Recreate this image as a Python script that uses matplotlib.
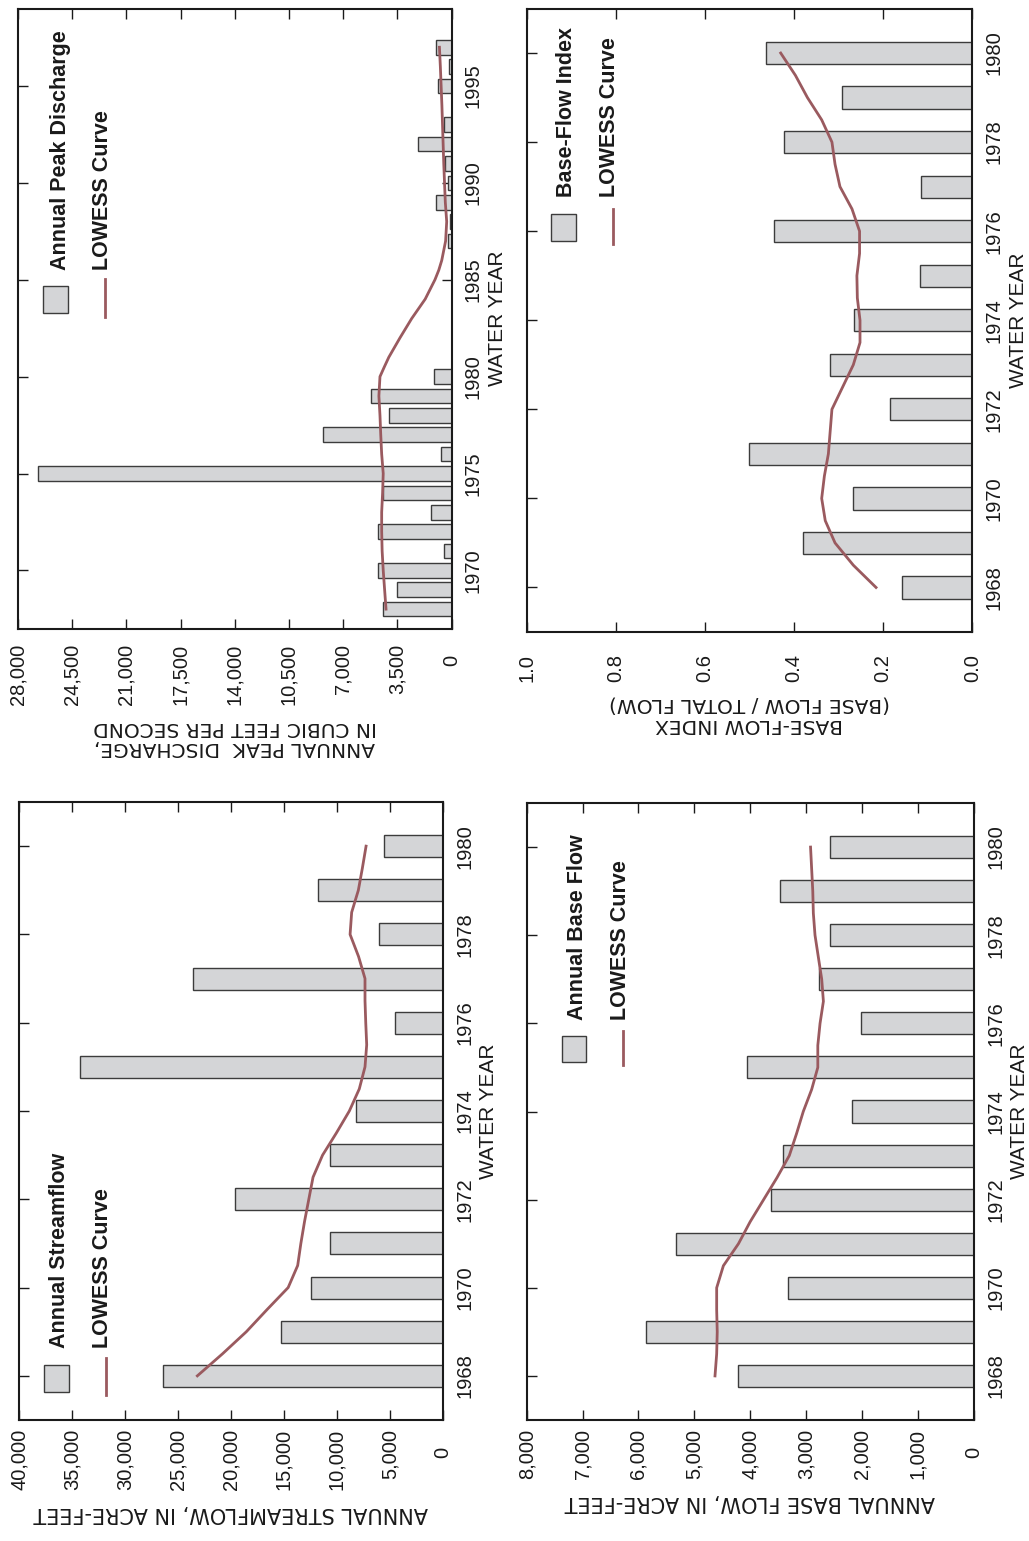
import numpy as np
import matplotlib
matplotlib.use("Agg")
import matplotlib.pyplot as plt
import matplotlib.transforms as mtransforms
from matplotlib.patches import Rectangle
from matplotlib.lines import Line2D

# ============================================================================
# DATA
# ============================================================================

years = list(range(1968, 1981))

# Annual streamflow, acre-feet
streamflow = [26450, 15300, 12450, 10600, 19600, 10650, 8150,
              34250, 4500, 23550, 6050, 11800, 5550]

# Annual base flow, acre-feet
base_flow = [4210, 5870, 3330, 5320, 3630, 3410, 2170,
             4050, 2015, 2760, 2570, 3460, 2570]

# Base-flow index (base flow / total flow)
bfi = [0.158, 0.381, 0.267, 0.502, 0.185, 0.319, 0.266,
       0.117, 0.445, 0.116, 0.423, 0.293, 0.462]

# Annual peak discharge, cubic feet per second (no record 1981-86, 1994)
peak_years = [1968, 1969, 1970, 1971, 1972, 1973, 1974, 1975, 1976, 1977,
              1978, 1979, 1980, 1987, 1988, 1989, 1990, 1991, 1992, 1993,
              1995, 1996, 1997]
peak = [4450, 3520, 4770, 500, 4770, 1300, 4420, 26700, 690, 8300,
        4020, 5170, 1150, 200, 70, 990, 220, 400, 2160, 460,
        860, 170, 990]

# LOWESS curves
lowess_years = [1968.0, 1968.5, 1969.0, 1969.5, 1970.0, 1970.5, 1971.0,
                1971.5, 1972.0, 1972.5, 1973.0, 1973.5, 1974.0, 1974.5,
                1975.0, 1975.5, 1976.0, 1976.5, 1977.0, 1977.5, 1978.0,
                1978.5, 1979.0, 1979.5, 1980.0]
streamflow_lowess = [23180, 20800, 18550, 16600, 14600, 13700, 13400,
                     13050, 12650, 12250, 11350, 10050, 8820, 7880,
                     7340, 7180, 7270, 7340, 7340, 7950, 8750,
                     8600, 7970, 7590, 7240]
base_flow_lowess = [4630, 4600, 4590, 4600, 4600, 4480, 4210,
                    4000, 3760, 3520, 3300, 3170, 3050, 2900,
                    2790, 2790, 2750, 2690, 2720, 2780, 2840,
                    2870, 2880, 2900, 2920]
bfi_lowess = [0.216, 0.267, 0.308, 0.330, 0.338, 0.332, 0.323,
              0.319, 0.315, 0.291, 0.267, 0.252, 0.252, 0.258,
              0.259, 0.253, 0.253, 0.270, 0.297, 0.308, 0.315,
              0.338, 0.370, 0.397, 0.430]

peak_lowess_years = [1968, 1969, 1970, 1971, 1972, 1973, 1974, 1975, 1976,
                     1977, 1978, 1979, 1980, 1980.5, 1981, 1982, 1983,
                     1984, 1985, 1985.5, 1986, 1987, 1988, 1989, 1990,
                     1991, 1992, 1993, 1994, 1995, 1996, 1997]
peak_lowess = [4230, 4320, 4410, 4480, 4510, 4510, 4450, 4410, 4510,
               4570, 4620, 4690, 4620, 4340, 4050, 3330, 2570,
               1700, 1070, 820, 630, 380, 310, 400, 450,
               500, 540, 580, 620, 670, 720, 780]

# ============================================================================
# STYLE
# ============================================================================

plt.rcParams['font.family'] = ['Liberation Sans', 'DejaVu Sans']
BAR_FC = '#d4d5d7'
BAR_EC = '#3c3c3c'
LINE_C = '#9a5a5f'
INK = '#1a1a1a'

W, H = 1029, 1541
fig = plt.figure(figsize=(W / 100, H / 100), dpi=100)


def make_axes(left, top, right, bottom):
    return fig.add_axes([left / W, 1 - bottom / H, (right - left) / W, (bottom - top) / H])


def panel(ax, box, yrs, vals, lw_yrs, lw_vals, xmax, xstep, ylim, ystep,
          bar_h, xlabel, legend_label, leg, fmt, zero_sep=True, xpad=6.5,
          xlab_size=15):
    w_px = box[2] - box[0]
    h_px = box[3] - box[1]
    ax.barh(yrs, vals, height=bar_h, color=BAR_FC, edgecolor=BAR_EC, linewidth=1, zorder=2)
    ax.plot(lw_vals, lw_yrs, color=LINE_C, linewidth=2, zorder=3,
            solid_joinstyle='round')
    ax.set_xlim(xmax, 0)
    ax.set_ylim(*ylim)

    xt = np.arange(0, xmax + xstep / 2, xstep)
    ax.set_xticks(xt)
    labels = [fmt(v) for v in xt]
    if zero_sep:
        labels[0] = ''
    ax.set_xticklabels(labels)
    ax.set_yticks(np.arange(ylim[0] + (ystep - (ylim[0] % ystep)) % ystep, ylim[1], ystep))

    for s in ax.spines.values():
        s.set_linewidth(1.5)
        s.set_color(INK)
    ax.tick_params(axis='x', direction='in', top=True, bottom=True, length=7,
                   width=1, color=INK, labelsize=14.5, labelrotation=90, pad=xpad,
                   labelcolor=INK)
    ax.yaxis.tick_right()
    ax.tick_params(axis='y', direction='in', left=True, right=True, length=7,
                   width=1, color=INK, labelsize=14.5, labelrotation=90, pad=9,
                   labelleft=False, labelright=True, labelcolor=INK)
    for t in ax.get_yticklabels():
        t.set_verticalalignment('center')

    if zero_sep:
        tr = mtransforms.blended_transform_factory(ax.transData, ax.transAxes)
        ax.text(0, -32 / h_px, '0', transform=tr, rotation=90, ha='center',
                va='center', fontsize=14.5, color=INK)

    ax.yaxis.set_label_position('right')
    ax.set_ylabel('WATER YEAR', rotation=90, fontsize=15, color=INK,
                  va='center', ha='center')
    ax.yaxis.set_label_coords(1 + 46 / w_px, 0.5)
    ax.set_xlabel(xlabel, rotation=180, fontsize=xlab_size, family='DejaVu Sans',
                  color=INK, labelpad=9, linespacing=1.1)

    # hand-drawn legend (rotated with the page)
    sq, ln, tx1, tx2, ty = leg
    ax.add_patch(Rectangle((sq[0], sq[1]), sq[2] - sq[0], sq[3] - sq[1],
                           transform=ax.transAxes, facecolor=BAR_FC,
                           edgecolor=BAR_EC, linewidth=1, zorder=4))
    ax.add_line(Line2D([ln[0], ln[0]], [ln[1], ln[2]], transform=ax.transAxes,
                       color=LINE_C, linewidth=2, zorder=4))
    ax.text(tx1, ty, legend_label, transform=ax.transAxes, rotation=90,
            ha='center', va='bottom', fontsize=15.5, fontweight='bold', color=INK)
    ax.text(tx2, ty, 'LOWESS Curve', transform=ax.transAxes, rotation=90,
            ha='center', va='bottom', fontsize=15.5, fontweight='bold', color=INK)


thousands = lambda v: f'{v:,.0f}'

# top-left: annual peak discharge
box = (18, 8.5, 451.5, 628.5)
ax = make_axes(*box)
panel(ax, box, peak_years, peak, peak_lowess_years, peak_lowess,
      28000, 3500, (1967, 1999), 5, 0.75,
      'ANNUAL PEAK  DISCHARGE,\nIN CUBIC FEET PER SECOND',
      'Annual Peak Discharge',
      ((0.058, 0.509, 0.116, 0.552), (0.201, 0.503, 0.563), 0.097, 0.196, 0.578),
      thousands, xpad=11, xlab_size=14.5)

# top-right: base-flow index
box = (526.7, 8.5, 972.3, 632)
ax = make_axes(*box)
panel(ax, box, years, bfi, lowess_years, bfi_lowess,
      1.0, 0.2, (1967, 1981), 2, 0.5,
      'BASE-FLOW INDEX\n(BASE FLOW / TOTAL FLOW)',
      'Base-Flow Index',
      ((0.054, 0.627, 0.110, 0.670), (0.193, 0.623, 0.678), 0.090, 0.185, 0.698),
      lambda v: f'{v:.1f}', zero_sep=False, xpad=16, xlab_size=14.5)

# bottom-left: annual streamflow
box = (19.3, 802, 442.7, 1420)
ax = make_axes(*box)
panel(ax, box, years, streamflow, lowess_years, streamflow_lowess,
      40000, 5000, (1967, 1981), 2, 0.5,
      'ANNUAL STREAMFLOW, IN ACRE-FEET',
      'Annual Streamflow',
      ((0.0575, 0.046, 0.118, 0.089), (0.205, 0.040, 0.100), 0.096, 0.197, 0.117),
      thousands)

# bottom-right: annual base flow
box = (526.7, 803, 973.7, 1420)
ax = make_axes(*box)
panel(ax, box, years, base_flow, lowess_years, base_flow_lowess,
      8000, 1000, (1967, 1981), 2, 0.5,
      'ANNUAL BASE FLOW, IN ACRE-FEET',
      'Annual Base Flow',
      ((0.078, 0.581, 0.133, 0.623), (0.216, 0.575, 0.631), 0.113, 0.209, 0.649),
      thousands)

fig.savefig('out.png', dpi=100)
